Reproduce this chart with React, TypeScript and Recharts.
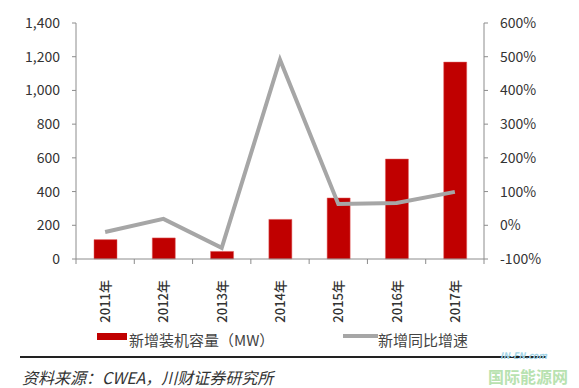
import React from 'react';
import { ComposedChart, Bar, Line, XAxis, YAxis } from 'recharts';

const years = ['2011年', '2012年', '2013年', '2014年', '2015年', '2016年', '2017年'];
const newCapacity = [115, 125, 45, 235, 362, 593, 1168];
const yoyGrowth = [-20, 19, -67, 491, 63, 66, 99];
const leftTicks = [0, 200, 400, 600, 800, 1000, 1200, 1400];
const rightTicks = [-100, 0, 100, 200, 300, 400, 500, 600];

const data = years.map((year, i) => ({
  year,
  capacity: newCapacity[i],
  growth: yoyGrowth[i],
}));

const W = 579;
const PLOT_LEFT = 76;
const PLOT_RIGHT = 484;
const BAND = (PLOT_RIGHT - PLOT_LEFT) / years.length;
const FONT = '"Noto Sans CJK SC", "Noto Sans", sans-serif';

const YearTick = (props: any) => {
  const { x, y, payload, index } = props;
  const isLast = index === years.length - 1;
  const ty = y + 13;
  return (
    <g>
      <line x1={x - BAND / 2} y1={y - 8} x2={x - BAND / 2} y2={y - 3} stroke="#8c8c8c" />
      {isLast && <line x1={x + BAND / 2} y1={y - 8} x2={x + BAND / 2} y2={y - 3} stroke="#8c8c8c" />}
      <text
        x={x}
        y={ty}
        transform={`rotate(-90, ${x}, ${ty})`}
        textAnchor="end"
        dy={5}
        fontSize={13}
        fontWeight={500}
        fill="#333"
        fontFamily={FONT}
      >
        {payload.value}
      </text>
    </g>
  );
};

export default function App() {
  return (
    <div style={{ position: 'absolute', left: 0, top: 0, width: W, height: 388, background: '#fff', fontFamily: FONT }}>
      <ComposedChart width={W} height={330} data={data} margin={{ top: 23, right: 0, left: 0, bottom: 0 }}>
        <XAxis
          dataKey="year"
          height={71}
          axisLine={{ stroke: '#8c8c8c' }}
          tickLine={false}
          tick={<YearTick />}
          interval={0}
        />
        <YAxis
          yAxisId="left"
          width={76}
          domain={[0, 1400]}
          ticks={leftTicks}
          tickFormatter={(v: number) => v.toLocaleString('en-US')}
          axisLine={{ stroke: '#8c8c8c' }}
          tickLine={{ stroke: '#8c8c8c' }}
          tickSize={4}
          tickMargin={12}
          tick={{ fontSize: 14, fill: '#333', fontFamily: FONT }}
        />
        <YAxis
          yAxisId="right"
          orientation="right"
          width={95}
          domain={[-100, 600]}
          ticks={rightTicks}
          tickFormatter={(v: number) => `${v}%`}
          axisLine={{ stroke: '#8c8c8c' }}
          tickLine={{ stroke: '#8c8c8c' }}
          tickSize={4}
          tickMargin={12}
          tick={{ fontSize: 14, fill: '#333', fontFamily: FONT }}
        />
        <Bar yAxisId="left" dataKey="capacity" fill="#c00000" stroke="#e06060" strokeWidth={0.5} barSize={23} isAnimationActive={false} />
        <Line
          yAxisId="right"
          dataKey="growth"
          type="linear"
          stroke="#a6a6a6"
          strokeWidth={4}
          dot={false}
          activeDot={false}
          isAnimationActive={false}
        />
      </ComposedChart>

      {/* legend */}
      <div style={{ position: 'absolute', left: 97, top: 333, width: 30, height: 7, background: '#c00000' }} />
      <div style={{ position: 'absolute', left: 129, top: 329, fontSize: 15, color: '#444', lineHeight: '22px', whiteSpace: 'nowrap' }}>
        新增装机容量（MW）
      </div>
      <div style={{ position: 'absolute', left: 343, top: 334, width: 35, height: 4, background: '#a6a6a6' }} />
      <div style={{ position: 'absolute', left: 378, top: 329, fontSize: 15, color: '#444', lineHeight: '22px', whiteSpace: 'nowrap' }}>
        新增同比增速
      </div>

      <div style={{ position: 'absolute', left: 20, top: 356, width: 526, height: 1.5, background: '#222' }} />
      <div style={{ position: 'absolute', left: 22, top: 366, fontSize: 16, fontStyle: 'italic', color: '#333', lineHeight: '22px', whiteSpace: 'nowrap' }}>
        资料来源：CWEA，川财证券研究所
      </div>

      {/* watermark */}
      <div style={{ position: 'absolute', left: 500, top: 351, fontSize: 9, fontStyle: 'italic', fontWeight: 700, color: '#9fd3e6', lineHeight: '10px' }}>
        IN-EN.com
      </div>
      <div style={{ position: 'absolute', left: 488, top: 367, fontSize: 16, fontWeight: 700, color: '#b8e2b0', lineHeight: '18px', whiteSpace: 'nowrap' }}>
        国际能源网
      </div>
    </div>
  );
}
